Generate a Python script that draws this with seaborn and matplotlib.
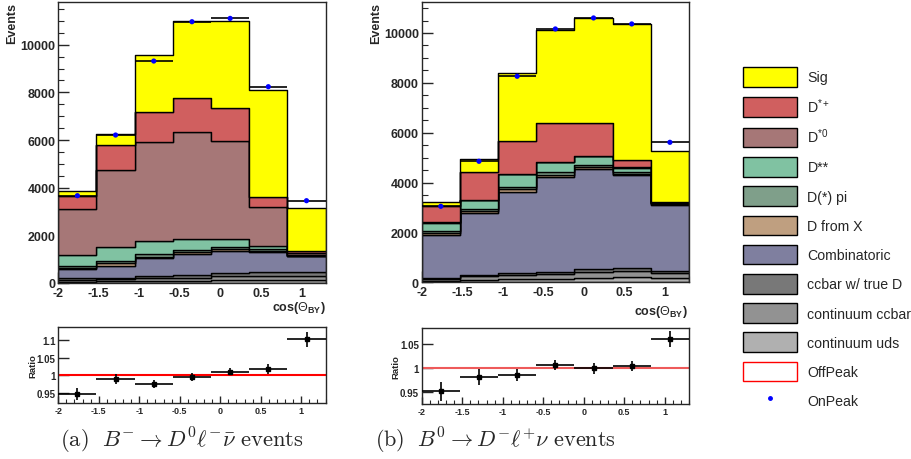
import numpy as np
import pandas as pd
import matplotlib
matplotlib.use("Agg")
import matplotlib.pyplot as plt
import seaborn as sns
from matplotlib.patches import Patch
from matplotlib.lines import Line2D
from matplotlib.ticker import MultipleLocator, FuncFormatter

# ---------------- data ----------------
x_lo, x_hi, n_bins = -2.0, 1.3, 7

components = ["Sig", "D$^{*+}$", "D$^{*0}$", "D**", "D(*) pi", "D from X",
              "Combinatoric", "ccbar w/ true D", "continuum ccbar", "continuum uds"]
comp_colors = ["#ffff00", "#d05f5f", "#a67777", "#80c2a2", "#7f9f8a", "#bf9f80",
               "#7f7f9f", "#787878", "#929292", "#b0b0b0"]

# (a) B- -> D0 l nu
a_sig  = [195, 444, 2387, 3251, 3645, 4485, 1780]
a_dstp = [559, 1063, 1259, 1413, 1399, 419, 112]
a_dst0 = [1918, 3245, 4127, 4503, 4098, 1636, 50]
a_dss  = [460, 560, 559, 462, 350, 112, 20]
a_dpi  = [80, 98, 112, 98, 70, 84, 30]
a_dx   = [60, 112, 70, 70, 70, 56, 26]
a_comb = [392, 504, 756, 882, 938, 840, 671]
a_ccd  = [61, 69, 85, 106, 130, 138, 138]
a_cc   = [75, 85, 110, 130, 165, 175, 175]
a_uds  = [60, 70, 85, 100, 125, 135, 135]
a_onpeak = [3664, 6210, 9315, 10965, 11105, 8238, 3454]
a_ratio = [0.947, 0.990, 0.975, 0.995, 1.010, 1.018, 1.102]
a_ratio_err = [0.017, 0.015, 0.012, 0.012, 0.010, 0.014, 0.022]

# (b) B0 -> D- l nu
b_sig  = [134, 535, 2741, 3743, 4198, 5442, 2072]
b_dstp = [668, 1110, 1310, 1551, 1310, 307, 17]
b_dst0 = [27, 20, 20, 20, 20, 20, 0]
b_dss  = [307, 341, 488, 408, 355, 181, 10]
b_dpi  = [100, 80, 101, 100, 80, 57, 40]
b_dx   = [61, 80, 100, 100, 80, 50, 40]
b_comb = [1752, 2487, 3262, 3784, 4011, 3743, 2634]
b_ccd  = [32, 60, 75, 85, 107, 112, 94]
b_cc   = [72, 132, 168, 193, 241, 253, 210]
b_uds  = [56, 102, 131, 150, 187, 197, 164]
b_onpeak = [3048, 4853, 8263, 10161, 10602, 10362, 5615]
b_ratio = [0.951, 0.981, 0.985, 1.006, 0.999, 1.004, 1.061]
b_ratio_err = [0.020, 0.017, 0.013, 0.011, 0.012, 0.011, 0.017]

x_ticks = [-2, -1.5, -1, -0.5, 0, 0.5, 1]

# ---------------- style ----------------
sns.set_style("ticks")
plt.rcParams["font.family"] = ["Liberation Sans", "DejaVu Sans"]
plt.rcParams["mathtext.fontset"] = "custom"
plt.rcParams["mathtext.rm"] = "Liberation Sans"
plt.rcParams["mathtext.it"] = "Liberation Sans:italic"
plt.rcParams["mathtext.bf"] = "Liberation Sans:bold"
plt.rcParams["axes.linewidth"] = 1.0

W, H = 912, 460
fig = plt.figure(figsize=(W / 100, H / 100), dpi=100)


def px_rect(x0, y0, x1, y1):
    return [x0 / W, 1 - y1 / H, (x1 - x0) / W, (y1 - y0) / H]


edges = np.linspace(x_lo, x_hi, n_bins + 1)
centers = 0.5 * (edges[:-1] + edges[1:])
half_w = 0.5 * (edges[1] - edges[0])
fmt = FuncFormatter(lambda v, p: "%g" % v)


def draw_top(ax, layers, onpeak, ymax):
    rows = []
    for name, vals in zip(components, layers):
        for c, v in zip(centers, vals):
            rows.append({"x": c, "w": v, "comp": name})
    df = pd.DataFrame(rows)
    sns.histplot(data=df, x="x", weights="w", hue="comp", hue_order=components,
                 palette=comp_colors, multiple="stack", element="step",
                 bins=[float(e) for e in edges],
                 alpha=1, edgecolor="black", linewidth=1.0, legend=False, ax=ax)
    ax.errorbar(centers, onpeak, xerr=half_w, fmt="none", ecolor="black",
                elinewidth=1.2, capsize=0, zorder=5)
    sns.scatterplot(x=centers, y=onpeak, color="blue", s=14, edgecolor="none",
                    ax=ax, zorder=6)
    ax.set_xlim(x_lo, x_hi)
    ax.set_ylim(0, ymax)
    ax.set_xticks(x_ticks)
    ax.xaxis.set_major_formatter(fmt)
    ax.xaxis.set_minor_locator(MultipleLocator(0.1))
    ax.yaxis.set_major_locator(MultipleLocator(2000))
    ax.yaxis.set_minor_locator(MultipleLocator(500))
    ax.tick_params(which="both", direction="in", top=False, right=False)
    ax.tick_params(which="major", length=8, width=1.0, labelsize=9, pad=2)
    ax.tick_params(axis="x", which="major", pad=3)
    ax.tick_params(which="minor", length=4, width=0.8)
    for lab in ax.get_xticklabels() + ax.get_yticklabels():
        lab.set_fontweight("bold")
    ax.set_xlabel("")
    ax.set_ylabel("")
    for s in ax.spines.values():
        s.set_visible(True)
        s.set_linewidth(1.0)


def draw_ratio(ax, ratio, err, yticks, ylim, line_color):
    ax.axhline(1.0, color=line_color, lw=1.5, zorder=2)
    ax.errorbar(centers, ratio, xerr=half_w, yerr=err, fmt="s", color="black",
                ms=3, elinewidth=1.2, capsize=0, zorder=4)
    ax.set_xlim(x_lo, x_hi)
    ax.set_ylim(*ylim)
    ax.set_xticks(x_ticks)
    ax.xaxis.set_major_formatter(fmt)
    ax.xaxis.set_minor_locator(MultipleLocator(0.1))
    ax.set_yticks(yticks)
    ax.yaxis.set_major_formatter(fmt)
    ax.tick_params(which="both", direction="in", top=False, right=False)
    ax.tick_params(axis="y", which="major", length=8, width=1.0, labelsize=7, pad=2)
    ax.tick_params(axis="x", which="major", length=5, width=1.0, labelsize=6.5, pad=2)
    ax.tick_params(which="minor", length=3, width=0.8)
    for lab in ax.get_xticklabels() + ax.get_yticklabels():
        lab.set_fontweight("bold")
    ax.set_ylabel("Ratio", fontsize=6.8, fontweight="bold")
    ax.yaxis.set_label_coords(-0.079, 0.5)
    for s in ax.spines.values():
        s.set_visible(True)
        s.set_linewidth(1.0)


ax_a = fig.add_axes(px_rect(58.3, 3.3, 325.6, 284))
ax_b = fig.add_axes(px_rect(421.7, 3.3, 689, 283.3))
ax_ra = fig.add_axes(px_rect(58.3, 328.3, 325.6, 404.3))
ax_rb = fig.add_axes(px_rect(421.7, 329.3, 689, 405.3))

draw_top(ax_a, [a_sig, a_dstp, a_dst0, a_dss, a_dpi, a_dx, a_comb, a_ccd, a_cc, a_uds],
         a_onpeak, 11780)
draw_top(ax_b, [b_sig, b_dstp, b_dst0, b_dss, b_dpi, b_dx, b_comb, b_ccd, b_cc, b_uds],
         b_onpeak, 11230)
draw_ratio(ax_ra, a_ratio, a_ratio_err, [0.95, 1.0, 1.05, 1.1], (0.921, 1.136), "#ff0000")
draw_ratio(ax_rb, b_ratio, b_ratio_err, [0.95, 1.0, 1.05], (0.9234, 1.0837), "#ee5a5a")

# axis titles
for ax, xpos in ((ax_a, 12), (ax_b, 376)):
    fig.text(xpos / W, 1 - 3.3 / H, "Events", rotation=90, ha="center", va="top",
             fontsize=9, fontweight="bold")
fig.text(326 / W, 1 - 308 / H, r"cos($\Theta_{\mathbf{BY}}$)", ha="right", va="center",
         fontsize=9, fontweight="bold")
fig.text(688 / W, 1 - 312 / H, r"cos($\Theta_{\mathbf{BY}}$)", ha="right", va="center",
         fontsize=9, fontweight="bold")

# captions
fig.text(182 / W, 1 - 441 / H, r"$\mathrm{(a)}\ \ B^{-} \rightarrow D^{0}\ell^{-}\bar{\nu}\ \mathrm{events}$",
         ha="center", va="center", fontsize=16.3, math_fontfamily="cm")
fig.text(495 / W, 1 - 441 / H, r"$\mathrm{(b)}\ \ B^{0} \rightarrow D^{-}\ell^{+}\nu\ \mathrm{events}$",
         ha="center", va="center", fontsize=16.0, math_fontfamily="cm")

# legend
handles = [Patch(facecolor=c, edgecolor="black", linewidth=1.0, label=n)
           for n, c in zip(components, comp_colors)]
handles.append(Patch(facecolor="white", edgecolor="red", linewidth=1.0, label="OffPeak"))
handles.append(Line2D([], [], marker="o", color="blue", markersize=2.5, linestyle="none",
                      label="OnPeak"))
fig.legend(handles=handles, loc="upper left", bbox_to_anchor=(743 / W, 1 - 68 / H),
           frameon=False, borderpad=0, borderaxespad=0, fontsize=10.2,
           handlelength=3.78, handleheight=1.75, labelspacing=0.68, handletextpad=0.77)

fig.savefig("out.png", dpi=100)
